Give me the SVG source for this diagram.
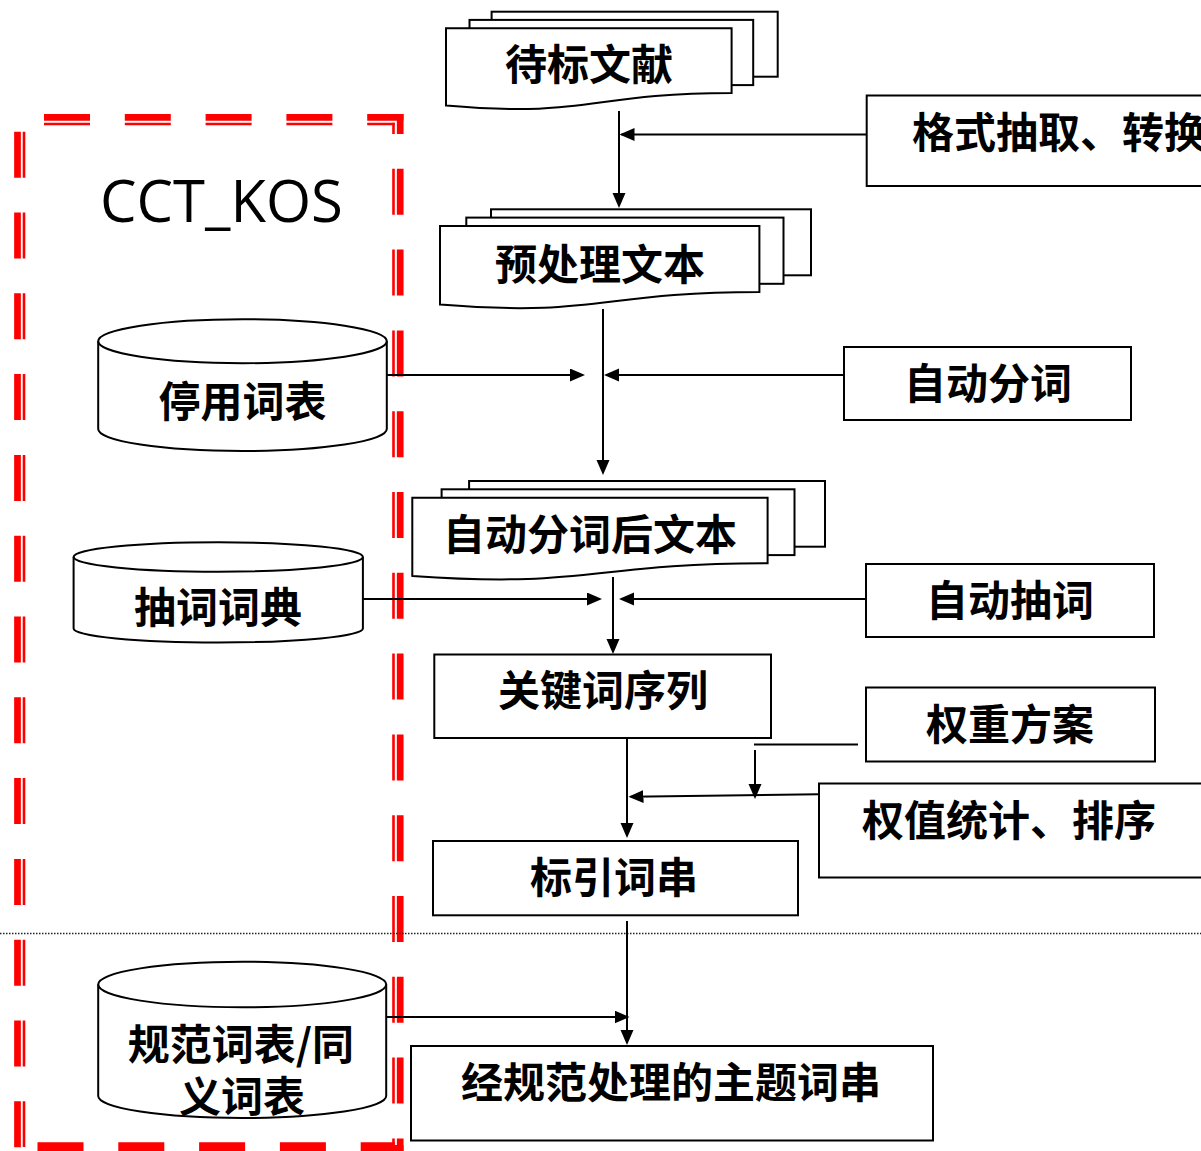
<svg xmlns="http://www.w3.org/2000/svg" width="1201" height="1151" viewBox="0 0 1201 1151">
<style>
.bx{fill:#fff;stroke:#000;stroke-width:2}
.ln{fill:none;stroke:#000;stroke-width:2}
.ar{fill:none;stroke:#000;stroke-width:2;marker-end:url(#arr)}
.t{font-family:"Noto Sans CJK SC","Noto Sans",sans-serif;font-size:42px;font-weight:bold;fill:#000;text-anchor:middle}
.rk{fill:none;stroke:#ff0000;stroke-width:6.7;stroke-dasharray:46 34.8}
.rn{fill:none;stroke:#ff0000;stroke-width:2.6;stroke-dasharray:46 34.8}
</style>
<defs>
<marker id="arr" markerUnits="userSpaceOnUse" markerWidth="16" markerHeight="14" refX="13" refY="6.5" orient="auto">
<path d="M0,0 L15,6.5 L0,13 Z" fill="#000"/>
</marker>
</defs>
<rect x="0" y="0" width="1201" height="1151" fill="#fff"/>

<g id="kos-frame">
<path class="rk" d="M44,117.3 H403.5"/>
<path class="rk" d="M400.2,114 V1151" stroke-dashoffset="26"/>
<path class="rk" d="M17.5,131.7 V1151"/>
<path class="rk" d="M37.5,1148.4 H403.5"/>
<path class="rn" d="M44,124 H394.8"/>
<path class="rn" d="M393.5,122.7 V1144.9" stroke-dashoffset="34.7"/>
<path class="rn" d="M24,131.7 V1147"/>
<path class="rn" d="M37.5,1143.6 H394.8"/>
<text x="100" y="222" font-family="'Open Sans','Liberation Sans',sans-serif" font-size="58" fill="#000">CCT_KOS</text>
</g>

<g id="n-daibiao">
<rect class="bx" x="491.6" y="11.7" width="286.1" height="65"/>
<rect class="bx" x="469.5" y="19.9" width="283.7" height="65.2"/>
<path class="bx" d="M446,28.3 H731.6 V93.1 C588.8,93.1 588.8,118.1 446,105.6 Z"/>
<text class="t" x="589" y="80">待标文献</text>
</g>

<g id="n-geshi">
<rect class="bx" x="866.7" y="95.5" width="400" height="90.5"/>
<text class="t" x="912" y="148" style="text-anchor:start">格式抽取、转换</text>
</g>

<g id="n-yuchuli">
<rect class="bx" x="491" y="209.3" width="320" height="66"/>
<rect class="bx" x="466.3" y="217.6" width="317.2" height="66.2"/>
<path class="bx" d="M440,226.1 H759.4 V292 C599.7,292 599.7,317.3 440,304.6 Z"/>
<text class="t" x="600" y="279.5">预处理文本</text>
</g>

<g id="n-tingyong">
<path class="bx" d="M98.2,341.2 A144.3,22 0 0 1 386.8,341.2 V429 A144.3,22 0 0 1 98.2,429 Z"/>
<path class="ln" d="M98.2,341.2 A144.3,22 0 0 0 386.8,341.2"/>
<text class="t" x="242.5" y="417">停用词表</text>
</g>

<g id="n-zidongfenci">
<rect class="bx" x="844" y="347" width="287" height="73"/>
<text class="t" x="988" y="399">自动分词</text>
</g>

<g id="n-fencihou">
<rect class="bx" x="469.1" y="481" width="355.9" height="65.7"/>
<rect class="bx" x="441.6" y="489.3" width="352.9" height="65.8"/>
<path class="bx" d="M412.3,497.8 H767.6 V563.2 C590,563.2 590,588.5 412.3,575.9 Z"/>
<text class="t" x="590" y="549.5">自动分词后文本</text>
</g>

<g id="n-chouci">
<path class="bx" d="M73.6,557 A144.65,14.7 0 0 1 362.9,557 V628.5 A144.65,14 0 0 1 73.6,628.5 Z"/>
<path class="ln" d="M73.6,557 A144.65,14.7 0 0 0 362.9,557"/>
<text class="t" x="218" y="623">抽词词典</text>
</g>

<g id="n-zidongchouci">
<rect class="bx" x="866" y="564" width="288" height="73"/>
<text class="t" x="1010" y="616">自动抽词</text>
</g>

<g id="n-guanjianci">
<rect class="bx" x="434.3" y="654.5" width="336.7" height="83.5"/>
<text class="t" x="603" y="706">关键词序列</text>
</g>

<g id="n-quanzhong">
<rect class="bx" x="866" y="687.5" width="289" height="74"/>
<text class="t" x="1010" y="739.5">权重方案</text>
</g>

<g id="n-quanzhi">
<rect class="bx" x="819" y="783.5" width="400" height="94"/>
<text class="t" x="862" y="836" style="text-anchor:start">权值统计、排序</text>
</g>

<g id="n-biaoyin">
<rect class="bx" x="433" y="841" width="365" height="74.3"/>
<text class="t" x="614" y="893">标引词串</text>
</g>

<g id="n-guifan">
<path class="bx" d="M98.2,984.5 A144,22.8 0 0 1 386.2,984.5 V1096 A144,22 0 0 1 98.2,1096 Z"/>
<path class="ln" d="M98.2,984.5 A144,22.8 0 0 0 386.2,984.5"/>
<text class="t" x="241" y="1059.5">规范词表/同</text>
<text class="t" x="242" y="1112">义词表</text>
</g>

<g id="n-zhuti">
<rect class="bx" x="411" y="1046" width="522" height="94.5"/>
<text class="t" x="671" y="1098">经规范处理的主题词串</text>
</g>

<g id="connectors">
<path d="M0,933.5 H1201" fill="none" stroke="#222" stroke-width="1.3" stroke-dasharray="1.5 1.5"/>
<path class="ar" d="M619,111 V206"/>
<path class="ar" d="M866.7,134.5 H621.5"/>
<path class="ar" d="M603,309 V473"/>
<path class="ar" d="M387,375 H583"/>
<path class="ar" d="M844,375 H606"/>
<path class="ar" d="M613,577 V652"/>
<path class="ar" d="M363,599 H600"/>
<path class="ar" d="M866,599 H621"/>
<path class="ar" d="M627,738 V836"/>
<path class="ln" d="M754,744.5 H858"/>
<path class="ar" d="M755,750 V797"/>
<path class="ar" d="M819,794.3 L630.5,796.7"/>
<path class="ar" d="M627,921 V1043"/>
<path class="ar" d="M386.2,1017 H627.5"/>
</g>
</svg>
